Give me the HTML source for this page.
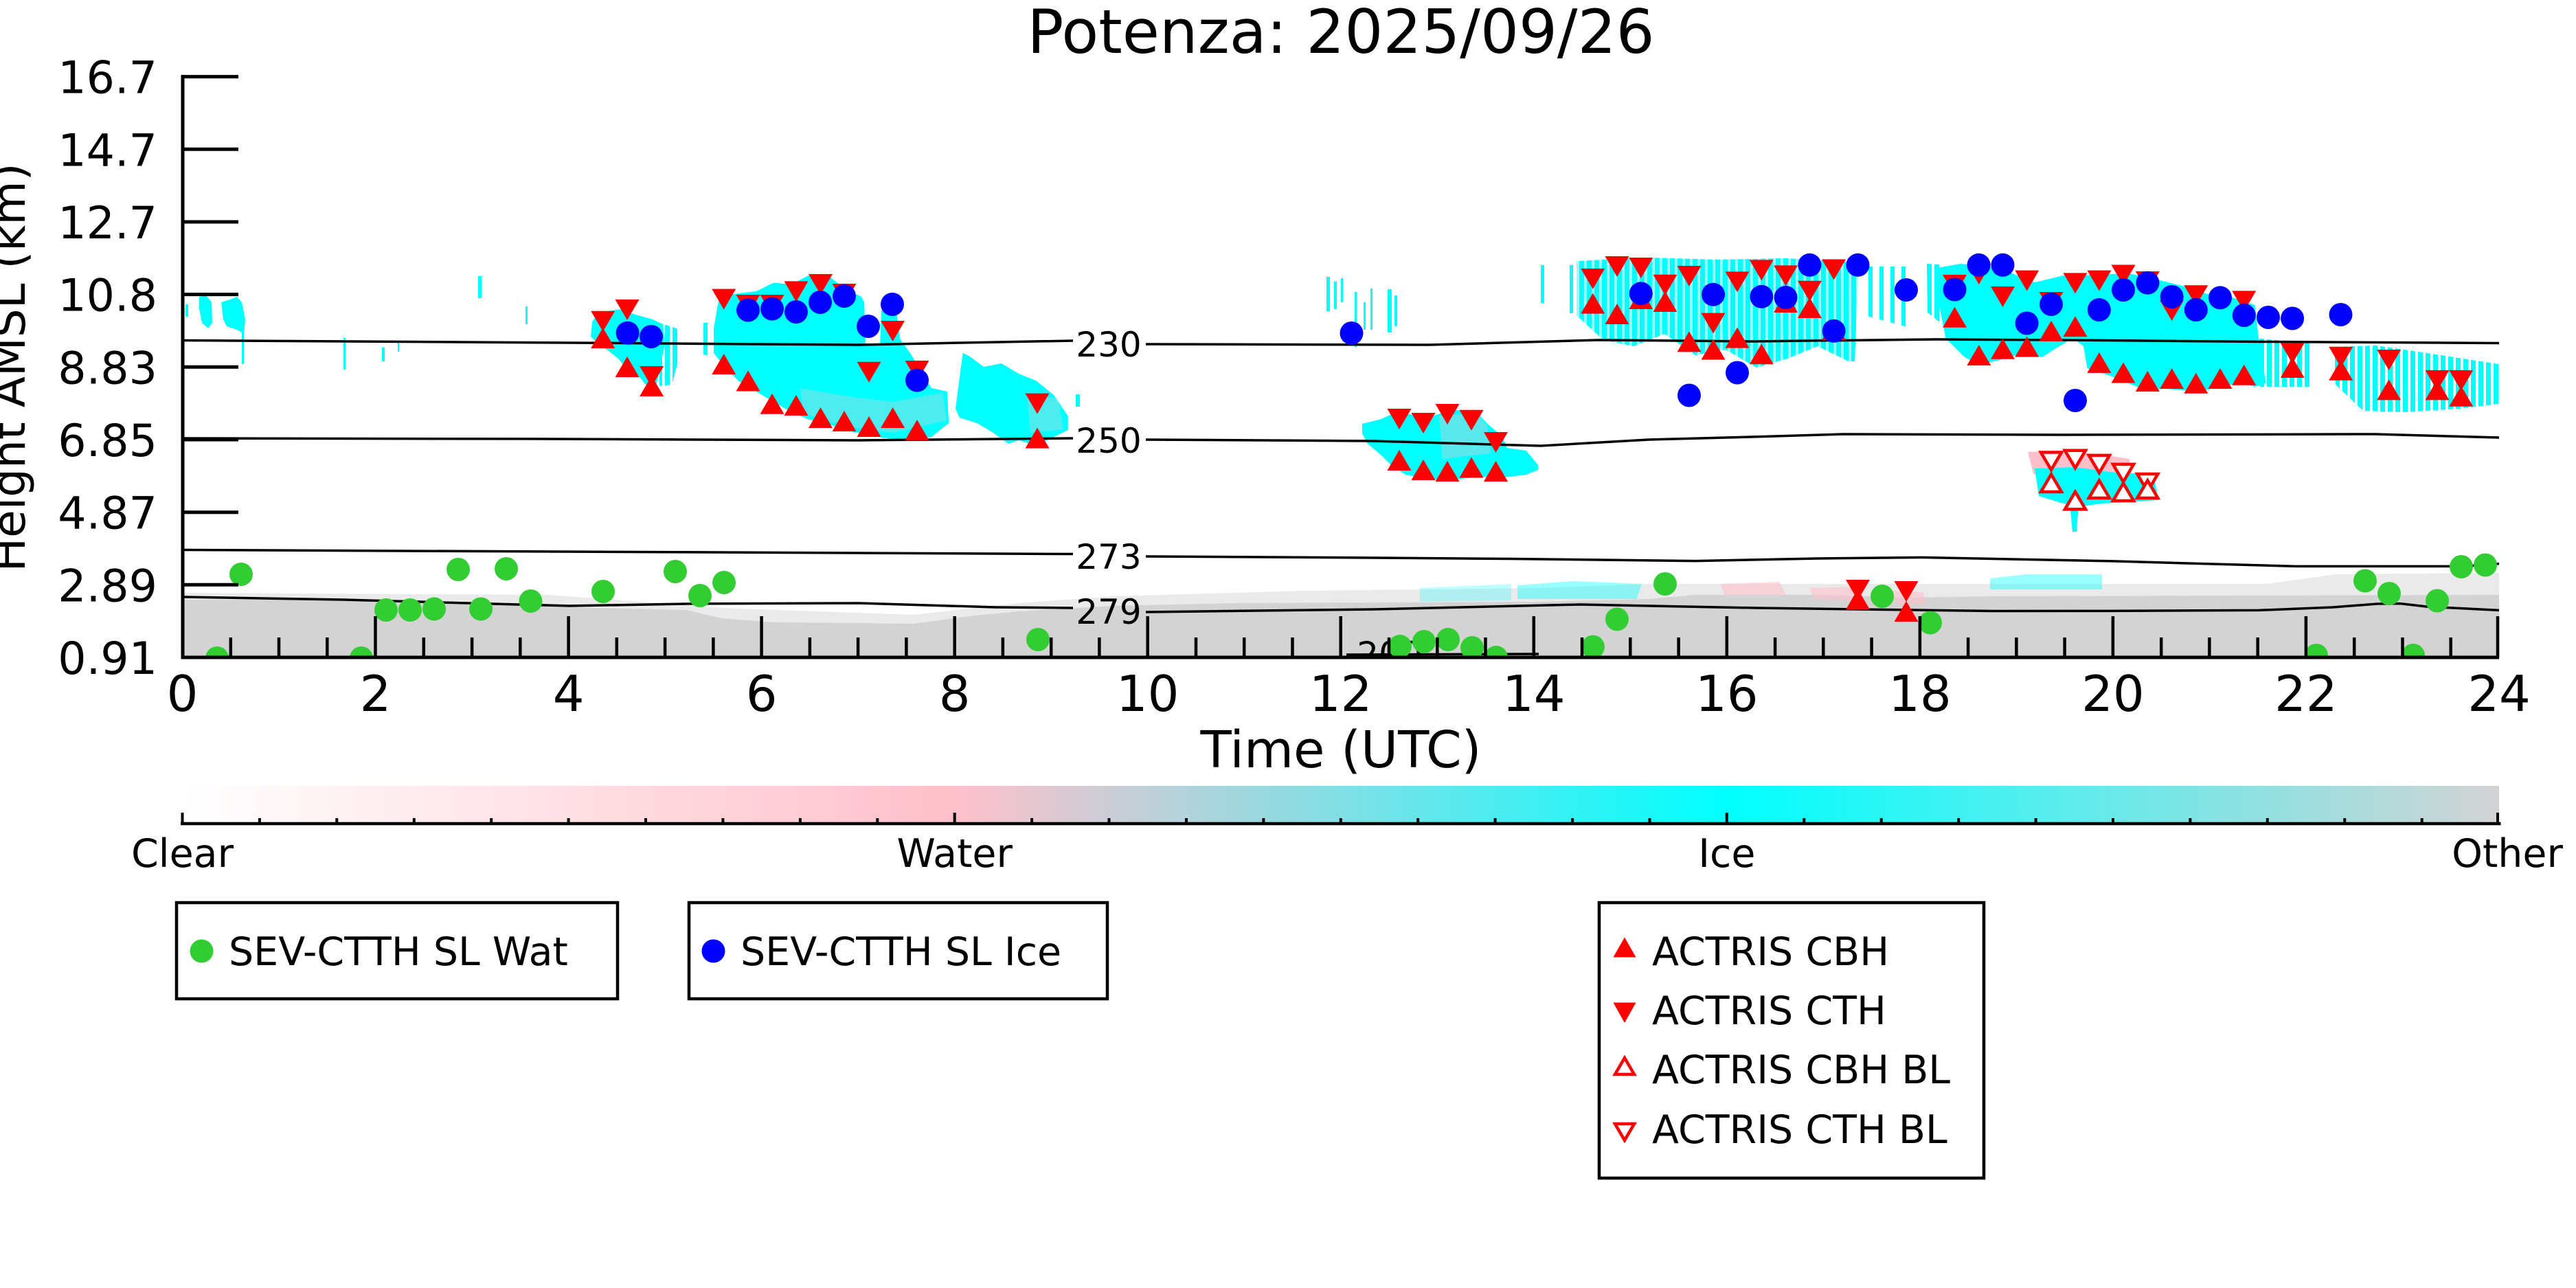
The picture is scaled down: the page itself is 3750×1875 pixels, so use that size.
<!DOCTYPE html>
<html><head><meta charset="utf-8"><title>Potenza: 2025/09/26</title>
<style>html,body{margin:0;padding:0;background:#fff;}svg{display:block;}text{font-family:"DejaVu Sans","Liberation Sans",sans-serif;fill:#000;}</style>
</head><body>
<svg width="3750" height="1875" viewBox="0 0 3750 1875" xmlns="http://www.w3.org/2000/svg">
<defs>
<clipPath id="pc"><rect x="265.5" y="95" width="3372.5" height="862"/></clipPath>
<linearGradient id="cb" x1="0" x2="1" y1="0" y2="0">
<stop offset="0" stop-color="#ffffff"/><stop offset="0.3333" stop-color="#ffc0cb"/><stop offset="0.6667" stop-color="#00ffff"/><stop offset="1" stop-color="#d3d3d3"/>
</linearGradient>
<pattern id="st" width="11" height="40" patternUnits="userSpaceOnUse"><rect x="0" y="0" width="7" height="40" fill="#00ffff"/></pattern>
<pattern id="st2" width="16" height="40" patternUnits="userSpaceOnUse"><rect x="0" y="0" width="6" height="40" fill="#00ffff"/></pattern>
<path id="tu" d="M0,-15 L-17.5,15 L17.5,15Z" fill="#ff0000"/>
<path id="td" d="M0,15 L-17.5,-15 L17.5,-15Z" fill="#ff0000"/>
<path id="ou" d="M0,-12.5 L-15,13 L15,13Z" fill="#fff" stroke="#ff0000" stroke-width="4.5"/>
<path id="od" d="M0,12.5 L-15,-13 L15,-13Z" fill="#fff" stroke="#ff0000" stroke-width="4.5"/>
<circle id="cg" r="17" fill="#32cd32"/>
<circle id="cbl" r="17" fill="#0000ff"/>
</defs>
<rect width="3750" height="1875" fill="#fff"/>

<text x="1952" y="77" font-size="88" text-anchor="middle">Potenza: 2025/09/26</text>

<g clip-path="url(#pc)">
<polygon fill="#eaeaea" points="265,863 800,866 1050,885 1330,895 1483,878 1620,868 1900,860 2240,856 2400,850 2900,850 3300,850 3400,836 3638,834 3638,957 265,957"/>
<polygon fill="#d3d3d3" points="265,873 600,873 820,884 999,888 1050,900 1126,906 1330,908 1420,896 1483,890 1620,882 1800,878 2240,876 2400,872 2468,866 2646,866 2780,870 2900,868 3300,867 3638,866 3638,957 265,957"/>
<polygon fill="#ffc0cb" opacity="0.6" points="2505,850 2590,847 2600,866 2510,866"/>
<polygon fill="#ffc0cb" opacity="0.6" points="2635,856 2700,854 2700,874 2640,872"/>
<polygon fill="#ffc0cb" opacity="0.6" points="2755,860 2800,862 2805,880 2760,880"/>
<polygon fill="#00ffff" opacity="0.4" points="2209,852 2290,846 2390,850 2383,872 2209,872"/>
<polygon fill="#00ffff" opacity="0.25" points="2067,856 2200,850 2200,874 2067,876"/>
<polygon fill="#00ffff" opacity="0.4" points="2897,842 2950,836 3060,836 3060,858 2897,858"/>

<polygon fill="#00ffff" points="290,432 300,430 308,440 309,470 303,478 294,470 290,450"/>
<polygon fill="#00ffff" points="322,440 335,436 345,432 352,440 357,465 355,486 345,480 330,475 325,465"/>
<rect x="352" y="484" width="3" height="46" fill="#00ffff"/>
<rect x="270" y="443" width="4" height="18" fill="#00ffff"/>
<rect x="500" y="492" width="3" height="46" fill="#00ffff"/>
<rect x="556" y="506" width="4" height="20" fill="#00ffff"/>
<rect x="579" y="497" width="2" height="15" fill="#00ffff"/>
<rect x="696" y="402" width="5" height="32" fill="#00ffff"/>
<rect x="765" y="446" width="3" height="26" fill="#00ffff"/>

<polygon fill="#00ffff" points="862,468 872,455 890,452 905,450 925,458 950,465 965,472 968,500 960,540 955,562 940,560 930,548 915,540 900,522 885,510 870,500 860,490"/>
<polygon fill="url(#st)" points="960,470 985,478 990,500 986,530 978,560 960,562"/>

<polygon fill="#00ffff" points="1039,478 1047,432 1075,427 1101,424 1126,411.6 1152,414 1177,401 1203,399 1228,419 1254,432 1258,440 1260,503 1281,503 1283,452 1305,452 1310,493 1325,514 1356,565 1379,570 1381,616 1356,636 1310,641 1279,636 1254,631 1228,626 1203,616 1177,610.6 1152,600 1126,585 1101,570 1075,554.5 1055,534 1039,514"/>
<polygon fill="#ffc0cb" opacity="0.3" points="1165,565 1240,578 1300,585 1372,572 1378,612 1300,630 1230,620 1170,602"/>
<polygon fill="url(#st2)" points="1020,470 1040,470 1040,520 1020,515"/>

<polygon fill="#00ffff" points="1401.6,513.7 1411.6,518.8 1432,534 1457.8,529 1483,544 1508.8,554.5 1534,575 1554.7,605.5 1554.7,626 1534,636 1508.8,649 1483,641 1468,646 1447.5,631 1422,615.7 1396.7,608 1391,595"/>
<polygon fill="#ffc0cb" opacity="0.3" points="1495,575 1540,580 1548,625 1500,630"/>
<rect x="1566" y="574" width="6" height="18" fill="#00ffff"/>

<rect x="1931" y="403" width="5" height="50" fill="#00ffff"/>
<rect x="1942" y="410" width="4" height="40" fill="#00ffff"/>
<rect x="1952" y="405" width="3" height="35" fill="#00ffff"/>
<rect x="1972" y="425" width="3" height="80" fill="#00ffff"/>
<rect x="1985" y="440" width="3" height="40" fill="#00ffff"/>
<rect x="1995" y="420" width="3" height="60" fill="#00ffff"/>
<rect x="2020" y="421" width="6" height="63" fill="#00ffff"/>
<rect x="2030" y="430" width="4" height="45" fill="#00ffff"/>

<polygon fill="#00ffff" points="1983,617 2011,610 2032,600 2081,607 2116,596 2151.5,602 2165.5,617 2186.6,635 2193.6,652 2221.7,656 2239,677 2239,684 2221.7,691 2193.6,694.5 2151.5,694.5 2116,698 2081,698 2046,691 2025,677 2011,663 1990,645 1983,631"/>
<polygon fill="#ffc0cb" opacity="0.35" points="2095,605 2150,602 2165,620 2170,660 2100,668"/>

<rect x="2243" y="386" width="5" height="55" fill="#00ffff"/>
<rect x="2285" y="386" width="5" height="70" fill="#00ffff"/>
<polygon fill="url(#st)" points="2295,380 2400,375 2500,378 2600,376 2700,382 2705,400 2700,526 2691,526 2646,504 2602,522 2557,535 2512,509 2468,517 2423,486 2378,504 2334,495 2295,459"/>
<polygon fill="#00ffff" opacity="0.4" points="2295,380 2400,375 2500,378 2600,376 2700,382 2705,400 2700,526 2691,526 2646,504 2602,522 2557,535 2512,509 2468,517 2423,486 2378,504 2334,495 2295,459"/>
<polygon fill="url(#st2)" points="2718,388 2780,388 2780,477 2718,460"/>

<polygon fill="#00ffff" points="2854,384 2908,389.6 2962.6,411 3006,400.5 3044,400.5 3098,397.8 3136,406 3179.5,416.7 3212,427.6 3250,433 3282.5,444 3288,492.6 3298.7,557.7 3282.5,563 3260.8,557.7 3233.7,563 3206.6,568.5 3179.5,568.5 3152,565.8 3125,568.5 3098,557.7 3071,546.8 3038.5,536 3033,503.5 3016.8,492.6 2989.7,509 2973.5,519.7 2935.5,517 2908,525 2881,530.6 2859.6,519.7 2832.5,492.6 2821.7,438.4 2821.7,389.6"/>
<polygon fill="url(#st)" points="2805,384 2825,385 2825,470 2806,455"/>
<polygon fill="url(#st)" points="3282,492 3364,500 3364,563 3290,563"/>

<polygon fill="url(#st)" points="3396,505 3460,503 3540,515 3637,530 3637,588 3580,595 3500,600 3440,598 3400,560"/>

<polygon fill="#ffc0cb" points="2952,658 3000,656 3060,662 3100,668 3103,690 3000,688 2960,690"/>
<polygon fill="#00ffff" points="2962,682 3020,680 3080,688 3135,690 3142,728 3060,733 3030,737 3000,732 2968,722"/>
<polygon fill="#00ffff" points="3013,732 3026,732 3023,774 3017,774"/>

<g fill="none" stroke="#000" stroke-width="3.5">
<polyline points="266,495.5 829,499 1250,502 1400,499 1562,496"/>
<polyline points="1668,501 2081,502 2327,495 2550,497 2819,494 3000,495 3297,497.5 3638,499.5"/>
<polyline points="266,638 800,639 1250,641 1562,638"/>
<polyline points="1668,640 2000,642 2243,649 2400,640 2550,636 2683,632 3000,633 3457,632 3638,637"/>
<polyline points="266,800.5 1250,805 1562,806.5"/>
<polyline points="1668,810 2000,812 2200,813.5 2468,816.6 2646,813 2800,811.5 3071,816.8 3342,824.4 3586,824.4 3638,820.6"/>
<polyline points="266,869 500,873 829,882 1000,879 1250,878 1450,884 1562,885"/>
<polyline points="1668,891 2000,887 2300,880 2557,885 2900,889.5 3071,889.4 3288,888.4 3396,884 3461,879 3494,878.6 3532,883 3638,888.4"/>
<polyline points="1960,953 2240,952"/>
</g>
<g font-size="50" text-anchor="middle">
<text x="1614" y="519">230</text>
<text x="1614" y="659">250</text>
<text x="1614" y="828">273</text>
<text x="1614" y="908">279</text>
<text x="2023" y="970">200</text>
</g>

<g>
<use href="#td" x="877.7" y="467.8"/><use href="#tu" x="877.7" y="492"/>
<use href="#td" x="913" y="451"/><use href="#tu" x="913" y="534"/>
<use href="#td" x="948.6" y="548"/><use href="#tu" x="948.6" y="562"/>
<use href="#td" x="1053.7" y="435.6"/><use href="#tu" x="1053.7" y="530"/>
<use href="#td" x="1089" y="444"/><use href="#tu" x="1089" y="554.5"/>
<use href="#td" x="1124" y="444"/><use href="#tu" x="1124" y="587.7"/>
<use href="#td" x="1159" y="424.4"/><use href="#tu" x="1159" y="590"/>
<use href="#td" x="1194.5" y="414"/><use href="#tu" x="1194.5" y="608"/>
<use href="#td" x="1229" y="428"/><use href="#tu" x="1229" y="613"/>
<use href="#td" x="1265" y="541.7"/><use href="#tu" x="1265" y="621"/>
<use href="#td" x="1299.6" y="482"/><use href="#tu" x="1299.6" y="608"/>
<use href="#td" x="1335" y="540"/><use href="#tu" x="1335" y="626"/>
<use href="#td" x="1510" y="587.6"/><use href="#tu" x="1510" y="637.6"/>
<use href="#td" x="2037" y="610"/><use href="#tu" x="2037" y="670"/>
<use href="#td" x="2072" y="616"/><use href="#tu" x="2072" y="684"/>
<use href="#td" x="2107" y="603"/><use href="#tu" x="2107" y="686"/>
<use href="#td" x="2142" y="611.7"/><use href="#tu" x="2142" y="680.5"/>
<use href="#td" x="2177.5" y="644"/><use href="#tu" x="2177.5" y="686"/>
<use href="#td" x="2318.75" y="406"/><use href="#tu" x="2318.75" y="441.6"/>
<use href="#td" x="2354" y="388"/><use href="#tu" x="2354" y="457"/>
<use href="#td" x="2388.8" y="390"/><use href="#tu" x="2388.8" y="435"/>
<use href="#td" x="2424" y="414.8"/><use href="#tu" x="2424" y="439"/>
<use href="#td" x="2459" y="402"/><use href="#tu" x="2459" y="497.4"/>
<use href="#td" x="2494" y="470.6"/><use href="#tu" x="2494" y="508.6"/>
<use href="#td" x="2529" y="410.4"/><use href="#tu" x="2529" y="491.6"/>
<use href="#td" x="2564.3" y="393.4"/><use href="#tu" x="2564.3" y="515.3"/>
<use href="#td" x="2599.6" y="401.4"/><use href="#tu" x="2599.6" y="440"/>
<use href="#td" x="2634.4" y="423.75"/><use href="#tu" x="2634.4" y="448"/>
<use href="#td" x="2669.6" y="392.5"/><use href="#tu" x="2669.6" y="480"/>
<use href="#td" x="2704.5" y="859"/><use href="#tu" x="2704.5" y="872.4"/>
<use href="#td" x="2775" y="861"/><use href="#tu" x="2775" y="890"/>
<use href="#td" x="2845.5" y="415"/><use href="#tu" x="2845.5" y="461.7"/>
<use href="#td" x="2880.8" y="399"/><use href="#tu" x="2880.8" y="517"/>
<use href="#td" x="2915.5" y="432"/><use href="#tu" x="2915.5" y="507.8"/>
<use href="#td" x="2950.7" y="408.6"/><use href="#tu" x="2950.7" y="504.6"/>
<use href="#td" x="2986" y="440"/><use href="#tu" x="2986" y="481.8"/>
<use href="#td" x="3021" y="412.4"/><use href="#tu" x="3021" y="475.3"/>
<use href="#td" x="3055.9" y="408.6"/><use href="#tu" x="3055.9" y="527.9"/>
<use href="#td" x="3091" y="400.5"/><use href="#tu" x="3091" y="542.5"/>
<use href="#td" x="3126.3" y="410"/><use href="#tu" x="3126.3" y="555"/>
<use href="#td" x="3161.6" y="452"/><use href="#tu" x="3161.6" y="551"/>
<use href="#td" x="3196.8" y="430.3"/><use href="#tu" x="3196.8" y="557.7"/>
<use href="#tu" x="3232" y="551"/>
<use href="#td" x="3266.7" y="438.4"/><use href="#tu" x="3266.7" y="545.8"/>
<use href="#td" x="3337.2" y="514.3"/><use href="#tu" x="3337.2" y="535"/>
<use href="#td" x="3407.7" y="519.7"/><use href="#tu" x="3407.7" y="538.7"/>
<use href="#td" x="3477.6" y="524"/><use href="#tu" x="3477.6" y="567.4"/>
<use href="#td" x="3548" y="553.9"/><use href="#tu" x="3548" y="567.4"/>
<use href="#td" x="3582.8" y="553.9"/><use href="#tu" x="3582.8" y="576.7"/>
</g>
<g>
<use href="#od" x="2986" y="671.5"/><use href="#ou" x="2986" y="703"/>
<use href="#od" x="3021" y="668.8"/><use href="#ou" x="3021" y="728.4"/>
<use href="#od" x="3055.9" y="675.9"/><use href="#ou" x="3055.9" y="712"/>
<use href="#od" x="3091" y="688.9"/><use href="#ou" x="3091" y="716"/>
<use href="#od" x="3126.3" y="703"/><use href="#ou" x="3126.3" y="712"/>
</g>
<g>
<use href="#cg" x="351" y="836"/><use href="#cg" x="316" y="958"/><use href="#cg" x="526" y="958"/>
<use href="#cg" x="562" y="888"/><use href="#cg" x="597" y="888"/><use href="#cg" x="632" y="886.5"/>
<use href="#cg" x="667" y="829"/><use href="#cg" x="700" y="886.5"/><use href="#cg" x="737" y="828"/>
<use href="#cg" x="772.5" y="875"/><use href="#cg" x="878" y="861"/><use href="#cg" x="983" y="832"/>
<use href="#cg" x="1019" y="867"/><use href="#cg" x="1054" y="848"/><use href="#cg" x="1511" y="931"/>
<use href="#cg" x="2038" y="941"/><use href="#cg" x="2073" y="934"/><use href="#cg" x="2108" y="931"/>
<use href="#cg" x="2143" y="943"/><use href="#cg" x="2178" y="957"/><use href="#cg" x="2319" y="941.6"/>
<use href="#cg" x="2354" y="901.4"/><use href="#cg" x="2424" y="850"/><use href="#cg" x="2740" y="868"/>
<use href="#cg" x="2810" y="906.5"/><use href="#cg" x="3372" y="954"/><use href="#cg" x="3443" y="845.5"/>
<use href="#cg" x="3478" y="864"/><use href="#cg" x="3513" y="954"/><use href="#cg" x="3548" y="874.5"/>
<use href="#cg" x="3583" y="825"/><use href="#cg" x="3618" y="822.5"/>
</g>
<g>
<use href="#cbl" x="913.6" y="484.7"/><use href="#cbl" x="948" y="490"/><use href="#cbl" x="1089" y="451.5"/>
<use href="#cbl" x="1124" y="449.6"/><use href="#cbl" x="1159" y="454"/><use href="#cbl" x="1194" y="440"/>
<use href="#cbl" x="1229" y="431"/><use href="#cbl" x="1264" y="475"/><use href="#cbl" x="1299" y="443"/>
<use href="#cbl" x="1335" y="553.6"/><use href="#cbl" x="1967.5" y="485"/>
<use href="#cbl" x="2388.8" y="427.3"/><use href="#cbl" x="2459" y="575.5"/><use href="#cbl" x="2494" y="428.7"/>
<use href="#cbl" x="2529" y="542.5"/><use href="#cbl" x="2564.3" y="431.8"/><use href="#cbl" x="2599.6" y="433"/>
<use href="#cbl" x="2634.4" y="385.8"/><use href="#cbl" x="2669.6" y="481.8"/><use href="#cbl" x="2704.5" y="385.8"/>
<use href="#cbl" x="2775" y="422"/><use href="#cbl" x="2845.5" y="421.5"/><use href="#cbl" x="2880.6" y="385.8"/>
<use href="#cbl" x="2915.5" y="385.8"/><use href="#cbl" x="2950.6" y="470.5"/><use href="#cbl" x="2986" y="443"/>
<use href="#cbl" x="3021" y="583"/><use href="#cbl" x="3055.8" y="451"/><use href="#cbl" x="3091" y="422"/>
<use href="#cbl" x="3126.4" y="411.7"/><use href="#cbl" x="3161.6" y="432"/><use href="#cbl" x="3196.8" y="451"/>
<use href="#cbl" x="3232" y="433.4"/><use href="#cbl" x="3266.8" y="459"/><use href="#cbl" x="3302" y="462"/>
<use href="#cbl" x="3337.1" y="463.5"/><use href="#cbl" x="3407.5" y="458"/>
</g>
</g>

<g stroke="#000" fill="none">
<path stroke-width="5" d="M266,109 V959.5 M263.5,957 H3638"/>
<path stroke-width="5" d="M266,111.6 H347 M266,217.3 H347 M266,323 H347 M266,428.6 H347 M266,534.3 H347 M266,640 H347 M266,745.7 H347 M266,851.3 H347"/>
<path stroke-width="4.5" d="M546.5,957V897 M827.6,957V897 M1108.6,957V897 M1389.7,957V897 M1670.7,957V897 M1951.7,957V897 M2232.8,957V897 M2513.8,957V897 M2794.9,957V897 M3075.9,957V897 M3356.9,957V897 M3636,957V897 M335.8,957V928 M406,957V928 M476.3,957V928 M616.8,957V928 M687.1,957V928 M757.3,957V928 M897.8,957V928 M968.1,957V928 M1038.4,957V928 M1178.9,957V928 M1249.1,957V928 M1319.4,957V928 M1459.9,957V928 M1530.2,957V928 M1600.4,957V928 M1741,957V928 M1811.2,957V928 M1881.5,957V928 M2022,957V928 M2092.3,957V928 M2162.5,957V928 M2303,957V928 M2373.3,957V928 M2443.6,957V928 M2584.1,957V928 M2654.3,957V928 M2724.6,957V928 M2865.1,957V928 M2935.4,957V928 M3005.6,957V928 M3146.2,957V928 M3216.4,957V928 M3286.7,957V928 M3427.2,957V928 M3497.5,957V928 M3567.7,957V928"/>
</g>
<g font-size="65" text-anchor="end">
<text x="229" y="135.6">16.7</text><text x="229" y="241.3">14.7</text><text x="229" y="347">12.7</text>
<text x="229" y="452.6">10.8</text><text x="229" y="558.3">8.83</text><text x="229" y="664">6.85</text>
<text x="229" y="769.7">4.87</text><text x="229" y="875.3">2.89</text><text x="229" y="981">0.91</text>
</g>
<g font-size="72" text-anchor="middle">
<text x="265.5" y="1035">0</text><text x="546.5" y="1035">2</text><text x="827.6" y="1035">4</text>
<text x="1108.6" y="1035">6</text><text x="1389.7" y="1035">8</text><text x="1670.7" y="1035">10</text>
<text x="1951.7" y="1035">12</text><text x="2232.8" y="1035">14</text><text x="2513.8" y="1035">16</text>
<text x="2794.9" y="1035">18</text><text x="3075.9" y="1035">20</text><text x="3356.9" y="1035">22</text>
<text x="3638" y="1035">24</text>
</g>
<text x="1952" y="1117" font-size="74" text-anchor="middle">Time (UTC)</text>
<text transform="translate(36,535) rotate(-90)" font-size="66" text-anchor="middle">Height AMSL (km)</text>

<rect x="265.5" y="1144" width="3372.5" height="54" fill="url(#cb)"/>
<g stroke="#000" fill="none">
<path stroke-width="4.5" d="M263,1199 H3640.5"/>
<path stroke-width="4" d="M265.5,1199V1183 M1389.7,1199V1183 M2513.8,1199V1183 M3636,1199V1183 M377.9,1199V1191 M490.3,1199V1191 M602.8,1199V1191 M715.2,1199V1191 M827.6,1199V1191 M940,1199V1191 M1052.4,1199V1191 M1164.9,1199V1191 M1277.3,1199V1191 M1502.1,1199V1191 M1614.5,1199V1191 M1727,1199V1191 M1839.4,1199V1191 M1951.8,1199V1191 M2064.2,1199V1191 M2176.6,1199V1191 M2289.1,1199V1191 M2401.5,1199V1191 M2626.3,1199V1191 M2738.7,1199V1191 M2851.2,1199V1191 M2963.6,1199V1191 M3076,1199V1191 M3188.4,1199V1191 M3300.8,1199V1191 M3413.3,1199V1191 M3525.7,1199V1191"/>
</g>
<g font-size="57" text-anchor="middle">
<text x="265.5" y="1262">Clear</text><text x="1389.7" y="1262">Water</text>
<text x="2513.8" y="1262">Ice</text><text x="3650" y="1262">Other</text>
</g>

<g fill="none" stroke="#000" stroke-width="4.5">
<rect x="257" y="1314" width="642" height="140"/>
<rect x="1003" y="1314" width="609" height="140"/>
<rect x="2328" y="1314" width="560" height="401"/>
</g>
<circle cx="293.5" cy="1384.5" r="17" fill="#32cd32"/>
<text x="333" y="1405" font-size="57">SEV-CTTH SL Wat</text>
<circle cx="1038.5" cy="1384.5" r="17" fill="#0000ff"/>
<text x="1078" y="1405" font-size="57">SEV-CTTH SL Ice</text>
<path d="M2365,1364.5 L2348.5,1393.5 L2381.5,1393.5Z" fill="#ff0000"/>
<text x="2405" y="1405" font-size="57">ACTRIS CBH</text>
<path d="M2365,1489 L2348.5,1459.5 L2381.5,1459.5Z" fill="#ff0000"/>
<text x="2405" y="1491" font-size="57">ACTRIS CTH</text>
<path d="M2365,1540 L2351,1564 L2379,1564Z" fill="#fff" stroke="#ff0000" stroke-width="4.5"/>
<text x="2405" y="1577" font-size="57">ACTRIS CBH BL</text>
<path d="M2365,1660 L2351,1636 L2379,1636Z" fill="#fff" stroke="#ff0000" stroke-width="4.5"/>
<text x="2405" y="1664" font-size="57">ACTRIS CTH BL</text>
</svg>
</body></html>
